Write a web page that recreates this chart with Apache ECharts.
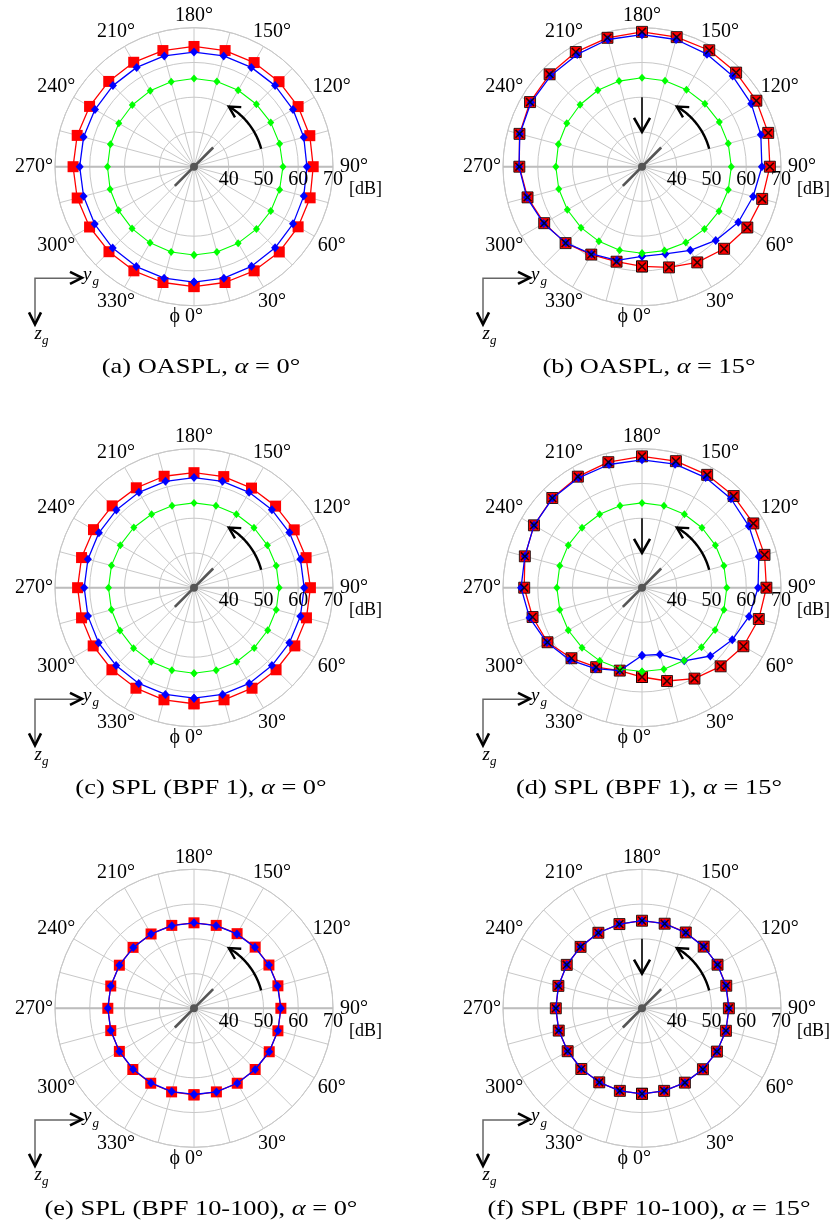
<!DOCTYPE html>
<html><head><meta charset="utf-8">
<script src="https://cdn.jsdelivr.net/npm/echarts@6/dist/echarts.min.js"></script>
<style>html,body{margin:0;padding:0;background:#fff}#c{width:834px;height:1226px}</style>
</head><body><div id="c"></div>
<script>
// ---------- data ----------
const angles = [0,15,30,45,60,75,90,105,120,135,150,165,180,195,210,225,240,255,270,285,300,315,330,345];
const angleTickLabels = [0,30,60,90,120,150,180,210,240,270,300,330];
const radialTicks = [40,50,60,70];
const radiusMin = 30, radiusMax = 70;
const zeroLabelPrefix = 'ϕ';
const unitLabel = '[dB]';
const captionTexts = ['(a) OASPL, ', '(b) OASPL, ', '(c) SPL (BPF 1), ', '(d) SPL (BPF 1), ', '(e) SPL (BPF 10-100), ', '(f) SPL (BPF 10-100), '];
const captionAlpha = ['0°','15°','0°','15°','0°','15°'];

// (a) OASPL alpha=0
const redA   = [64.5,64.5,64.6,64.7,64.6,64.6,64.3,64.5,64.6,64.6,64.6,64.6,64.6,64.6,64.7,64.7,64.7,64.8,64.8,64.8,64.7,64.6,64.6,64.5];
const blueA  = [63.2,63.2,63.1,63.0,62.9,62.7,62.5,62.7,62.9,63.0,63.0,63.0,63.0,63.0,63.0,63.0,62.9,62.9,62.9,62.9,63.0,63.1,63.2,63.2];
const greenA = [55.4,55.4,55.4,55.4,55.5,55.5,55.6,55.5,55.5,55.4,55.4,55.4,55.4,55.3,55.2,55.1,55.0,54.9,54.9,55.0,55.1,55.2,55.3,55.4];
// (b) OASPL alpha=15
const redB   = [58.7,60.0,61.8,63.4,65.0,65.8,66.8,67.6,68.0,68.3,68.7,68.6,68.8,68.4,68.1,67.6,67.2,66.5,65.3,64.1,62.5,61.1,59.2,58.3];
const blueB  = [55.8,56.0,57.8,60.0,62.0,63.1,64.5,65.4,66.3,66.9,67.4,67.9,68.0,67.9,67.3,67.1,66.9,66.4,65.4,64.3,62.7,61.0,59.0,57.9];
const greenB = [54.9,55.0,55.2,55.4,55.6,55.7,55.7,55.7,55.7,55.6,55.6,55.6,55.6,55.5,55.4,55.2,55.0,54.9,54.8,54.8,54.8,54.8,54.8,54.9];
// (c) SPL BPF1 alpha=0
const redC   = [63.4,63.4,63.4,63.4,63.5,63.5,63.5,63.4,63.3,63.2,63.1,63.1,63.1,63.2,63.2,63.3,63.4,63.5,63.5,63.5,63.5,63.4,63.4,63.4];
const blueC  = [61.8,61.8,61.8,61.7,61.7,61.7,61.7,61.7,61.7,61.7,61.7,61.7,61.7,61.7,61.7,61.6,61.6,61.6,61.6,61.6,61.7,61.7,61.8,61.8];
const greenC = [54.6,54.6,54.6,54.5,54.5,54.5,54.5,54.5,54.4,54.4,54.4,54.4,54.4,54.4,54.4,54.5,54.5,54.6,54.6,54.6,54.6,54.6,54.6,54.6];
// (d) SPL BPF1 alpha=15
const redD   = [55.7,57.8,60.2,62.0,63.7,64.8,65.8,66.5,67.0,67.3,67.5,67.7,67.8,67.4,66.9,66.5,65.9,64.9,63.9,62.6,61.4,58.7,56.4,54.7];
const blueD  = [49.5,49.9,54.3,57.8,60.0,61.9,63.4,64.8,65.5,66.2,66.6,66.8,66.8,66.7,66.5,66.4,65.9,64.9,64.8,63.5,61.6,59.4,56.9,54.7];
const greenD = [54.1,54.3,54.2,54.2,54.3,54.4,54.4,54.4,54.4,54.4,54.4,54.4,54.4,54.4,54.4,54.4,54.5,54.5,54.5,54.5,54.5,54.4,54.3,54.2];
// (e) SPL BPF10-100 alpha=0
const redE   = [54.9,54.9,54.9,54.9,55.0,55.0,55.0,55.0,54.9,54.9,54.8,54.7,54.6,54.7,54.7,54.8,54.8,54.8,54.8,54.8,54.8,54.9,54.9,54.9];
const blueE  = [54.8,54.9,54.9,54.9,55.0,55.0,55.0,54.9,54.9,54.8,54.7,54.6,54.6,54.6,54.7,54.7,54.8,54.8,54.8,54.8,54.8,54.8,54.8,54.8];
// (f) SPL BPF10-100 alpha=15
const redF   = [54.6,54.6,54.7,54.8,54.9,55.0,55.0,55.1,55.1,55.1,55.2,55.2,55.2,55.1,55.1,55.0,55.0,54.9,54.8,54.8,54.7,54.7,54.6,54.6];
const blueF  = [54.6,54.6,54.7,54.8,54.9,55.0,55.0,55.0,55.1,55.1,55.1,55.2,55.2,55.1,55.1,55.0,55.0,54.9,54.8,54.8,54.7,54.7,54.6,54.6];

const panels = [
  {red: redA, blue: blueA, green: greenA, cross: false},
  {red: redB, blue: blueB, green: greenB, cross: true},
  {red: redC, blue: blueC, green: greenC, cross: false},
  {red: redD, blue: blueD, green: greenD, cross: true},
  {red: redE, blue: blueE, green: null,   cross: false},
  {red: redF, blue: blueF, green: null,   cross: true}
];

// ---------- layout ----------
const colX = [194, 642];
const rowY = [166.7, 587.7, 1008.3];
const R = 139;
const captionOffsetY = 200.5, captionOffsetX = 7;
const SERIF = '"Liberation Serif", "Times New Roman", serif';
const GRID = '#c8c8c8';
const LABEL_FONT = '20px ' + SERIF;

const chart = echarts.init(document.getElementById('c'), null, {renderer: 'canvas'});

const polar = [], angleAxis = [], radiusAxis = [], series = [];
panels.forEach((p, i) => {
  const cx = colX[i % 2], cy = rowY[Math.floor(i / 2)];
  polar.push({center: [cx, cy], radius: R});
  angleAxis.push({
    polarIndex: i, type: 'value', min: 0, max: 360, interval: 15,
    startAngle: 270, clockwise: false,
    axisLine: {show: true, lineStyle: {color: GRID, width: 1}},
    axisTick: {show: false},
    splitLine: {show: true, lineStyle: {color: GRID, width: 1}},
    axisLabel: {show: false}
  });
  radiusAxis.push({
    polarIndex: i, type: 'value', min: radiusMin, max: radiusMax, interval: 10,
    axisLine: {show: false}, axisTick: {show: false}, axisLabel: {show: false},
    splitLine: {show: true, lineStyle: {color: GRID, width: 1}}
  });
  const closed = vals => vals.map((v, k) => [v, angles[k]]).concat([[vals[0], 360]]);
  series.push({
    type: 'line', coordinateSystem: 'polar', polarIndex: i, data: closed(p.red),
    symbol: 'rect', symbolSize: 11, z: 3,
    lineStyle: {color: '#ff0000', width: 1.3},
    itemStyle: {color: '#ff0000', borderColor: p.cross ? '#000' : '#ff0000', borderWidth: p.cross ? 0.8 : 0}
  });
  series.push({
    type: 'line', coordinateSystem: 'polar', polarIndex: i, data: closed(p.blue),
    symbol: 'diamond', symbolSize: [8, 9], z: 4,
    lineStyle: {color: '#0000ff', width: 1.3},
    itemStyle: {color: '#0000ff'}
  });
  if (p.green) series.push({
    type: 'line', coordinateSystem: 'polar', polarIndex: i, data: closed(p.green),
    symbol: 'diamond', symbolSize: [7, 8], z: 4,
    lineStyle: {color: '#00ff00', width: 1.1},
    itemStyle: {color: '#00ff00'}
  });
  if (p.cross) series.push({
    type: 'scatter', coordinateSystem: 'polar', polarIndex: i,
    data: p.red.map((v, k) => [v, angles[k]]),
    symbol: 'path://M0,1.2 L1.2,0 L10,8.8 L8.8,10 Z M8.8,0 L10,1.2 L1.2,10 L0,8.8 Z',
    symbolSize: 9, z: 5, itemStyle: {color: '#000'}
  });
});

chart.setOption({
  animation: false,
  backgroundColor: '#fff',
  polar, angleAxis, radiusAxis, series
});

// ---------- annotations ----------
function toPx(i, r, a) {
  let pt = null;
  try { pt = chart.convertToPixel({polarIndex: i}, [r, a]); } catch (e) { pt = null; }
  if (!pt || isNaN(pt[0])) {
    const cx = colX[i % 2], cy = rowY[Math.floor(i / 2)];
    const rr = (r - radiusMin) / (radiusMax - radiusMin) * R;
    const t = (270 + a) * Math.PI / 180;
    pt = [cx + rr * Math.cos(t), cy - rr * Math.sin(t)];
  }
  return pt;
}
function chevron(tip, from, len, half) {
  let dx = tip[0] - from[0], dy = tip[1] - from[1];
  const L = Math.hypot(dx, dy); dx /= L; dy /= L;
  const nx = -dy, ny = dx;
  return [[tip[0] - len * dx + half * nx, tip[1] - len * dy + half * ny], tip,
          [tip[0] - len * dx - half * nx, tip[1] - len * dy - half * ny]];
}
const measureCtx = document.createElement('canvas').getContext('2d');
measureCtx.font = LABEL_FONT;

const g = [];
panels.forEach((p, i) => {
  const c = toPx(i, radiusMin, 0);
  // horizontal axis line (darker)
  g.push({type: 'line', shape: {x1: toPx(i, radiusMax, 270)[0], y1: c[1], x2: toPx(i, radiusMax, 90)[0], y2: c[1]},
          style: {stroke: '#bdbdbd', lineWidth: 2}, z: 1});
  // angle tick labels outside the outer circle
  angleTickLabels.forEach(a => {
    const txt = a + '°';
    const edge = toPx(i, radiusMax, a);
    let ux = edge[0] - c[0], uy = edge[1] - c[1];
    const L = Math.hypot(ux, uy); ux /= L; uy /= L;
    const off = 11.5 + 9.5 * Math.pow(Math.abs(ux), 0.8);
    const lx = edge[0] + off * ux, ly = edge[1] + off * uy;
    g.push({type: 'text', x: lx, y: ly, z: 6,
            style: {text: txt, font: LABEL_FONT, fill: '#000', align: 'center', verticalAlign: 'middle'}});
    if (a === 0) {
      const hw = measureCtx.measureText(txt).width / 2;
      g.push({type: 'text', x: lx - hw - 5, y: ly, z: 6,
              style: {text: zeroLabelPrefix, font: LABEL_FONT, fill: '#000', align: 'right', verticalAlign: 'middle'}});
    }
  });
  // rotor disk line and hub
  const d1 = toPx(i, 37.8, 135), d2 = toPx(i, 37.8, 315);
  g.push({type: 'line', shape: {x1: d1[0], y1: d1[1], x2: d2[0], y2: d2[1]}, style: {stroke: '#555', lineWidth: 2.6}, z: 2});
  g.push({type: 'circle', shape: {cx: c[0], cy: c[1], r: 4}, style: {fill: '#555'}, z: 2});
  // radial tick labels
  radialTicks.forEach(t => {
    const q = toPx(i, t, 90);
    g.push({type: 'text', x: q[0], y: c[1] + 13, z: 6,
            style: {text: String(t), font: LABEL_FONT, fill: '#000', align: 'center', verticalAlign: 'middle'}});
  });
  g.push({type: 'text', x: c[0] + 155, y: c[1] + 23, z: 6,
          style: {text: unitLabel, font: '18px ' + SERIF, fill: '#000', align: 'left', verticalAlign: 'middle'}});
  // curved rotation arrow
  const arc = [];
  for (let a = 105; a <= 150; a += 1) arc.push(toPx(i, 50, a));
  g.push({type: 'polyline', shape: {points: arc}, style: {stroke: '#000', lineWidth: 2.4, fill: null}, z: 6});
  g.push({type: 'polyline', shape: {points: chevron(arc[arc.length - 1], arc[arc.length - 4], 11, 6)},
          style: {stroke: '#000', lineWidth: 2.4, fill: null, lineJoin: 'miter'}, z: 6});
  // downward inflow arrow for alpha=15
  if (p.cross) {
    const a1 = toPx(i, 50, 180), a2 = toPx(i, 40, 180);
    g.push({type: 'line', shape: {x1: a1[0], y1: a1[1], x2: a2[0], y2: a2[1]}, style: {stroke: '#000', lineWidth: 1.6}, z: 6});
    g.push({type: 'polyline', shape: {points: chevron(a2, a1, 14, 8)},
            style: {stroke: '#000', lineWidth: 2.6, fill: null, lineJoin: 'miter'}, z: 6});
  }
  // coordinate frame indicator
  const ox = c[0] - 159, oy = c[1] + 111.6;
  g.push({type: 'polyline', shape: {points: [[ox + 45, oy], [ox, oy], [ox, oy + 44]]}, style: {stroke: '#666', lineWidth: 1.5, fill: null}, z: 6});
  g.push({type: 'polyline', shape: {points: chevron([ox + 47, oy - 0.5], [ox, oy - 0.5], 12, 6)}, style: {stroke: '#000', lineWidth: 2.6, fill: null}, z: 6});
  g.push({type: 'polyline', shape: {points: chevron([ox, oy + 46], [ox, oy], 12, 6)}, style: {stroke: '#000', lineWidth: 2.6, fill: null}, z: 6});
  g.push({type: 'text', x: ox + 48, y: oy - 3.5, z: 6, style: {text: 'y', font: 'italic 19px ' + SERIF, fill: '#000', verticalAlign: 'middle'}});
  g.push({type: 'text', x: ox + 57.5, y: oy + 3.5, z: 6, style: {text: 'g', font: 'italic 13px ' + SERIF, fill: '#000', verticalAlign: 'middle'}});
  g.push({type: 'text', x: ox - 0.5, y: oy + 55.5, z: 6, style: {text: 'z', font: 'italic 19px ' + SERIF, fill: '#000', verticalAlign: 'middle'}});
  g.push({type: 'text', x: ox + 7, y: oy + 62, z: 6, style: {text: 'g', font: 'italic 13px ' + SERIF, fill: '#000', verticalAlign: 'middle'}});
  // caption
  g.push({type: 'text', x: c[0] + captionOffsetX, y: c[1] + captionOffsetY, scaleX: 1.2, z: 6,
          style: {text: captionTexts[i] + '{i|α} = ' + captionAlpha[i], font: '22px ' + SERIF, fill: '#000',
                  align: 'center', verticalAlign: 'middle',
                  rich: {i: {fontStyle: 'italic', fontFamily: SERIF, fontSize: 22}}}});
});
chart.setOption({graphic: {elements: g}});
</script>
</body></html>
